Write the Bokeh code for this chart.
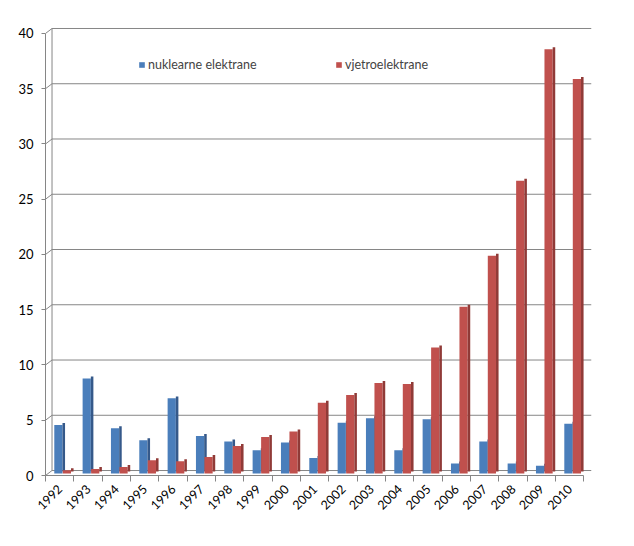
import math

from bokeh.plotting import figure
from bokeh.models import ColumnDataSource, Range1d, FixedTicker, Legend, LegendItem
from bokeh.transform import dodge
from bokeh.embed import file_html
from bokeh.resources import INLINE

# data
years = ["1992", "1993", "1994", "1995", "1996", "1997", "1998", "1999", "2000", "2001",
         "2002", "2003", "2004", "2005", "2006", "2007", "2008", "2009", "2010"]
nuklearne = [4.4, 8.6, 4.1, 3.0, 6.8, 3.4, 2.9, 2.1, 2.8, 1.4,
             4.6, 5.0, 2.1, 4.9, 0.9, 2.9, 0.9, 0.7, 4.5]
vjetro = [0.3, 0.4, 0.6, 1.2, 1.1, 1.5, 2.5, 3.3, 3.8, 6.4,
          7.1, 8.2, 8.1, 11.4, 15.1, 19.7, 26.5, 38.4, 35.7]
y_ticks = [0, 5, 10, 15, 20, 25, 30, 35, 40]

idx = list(range(len(years)))
src = ColumnDataSource(data=dict(x=idx, nuk=nuklearne, vje=vjetro))

FONT = "Lato"
AXIS_GREY = "#868686"
WALL_X = -0.27
RIGHT_X = 18.77
Y_SPAN = 40.63
WALL_SHIFT = 0.45  # back wall sits a few pixels higher than the front axis

p = figure(frame_width=546, frame_height=449, output_backend="svg", toolbar_location=None,
           x_range=Range1d(-0.5, RIGHT_X), y_range=Range1d(0, Y_SPAN),
           min_border_left=45, min_border_right=35, min_border_top=26,
           min_border_bottom=63)
p.outline_line_color = None
p.xgrid.visible = False
p.ygrid.visible = False

# shifted ranges to fake the 3D depth (back wall, bar fronts and bar sides)
p.extra_y_ranges = {"wall": Range1d(-WALL_SHIFT, Y_SPAN - WALL_SHIFT),
                    "front": Range1d(-0.18, Y_SPAN - 0.18),
                    "side": Range1d(-0.36, Y_SPAN - 0.36)}

# back wall: gridlines, its left edge and the little slanted links to the axis
p.segment(x0=WALL_X, x1=RIGHT_X, y0=y_ticks, y1=y_ticks, y_range_name="wall",
          line_color=AXIS_GREY, line_width=1)
p.segment(x0=WALL_X, x1=WALL_X, y0=y_ticks[0], y1=y_ticks[-1], y_range_name="wall",
          line_color=AXIS_GREY, line_width=1)
p.segment(x0=-0.5, x1=WALL_X, y0=y_ticks, y1=[t + WALL_SHIFT for t in y_ticks],
          line_color=AXIS_GREY, line_width=1)

w = 0.29
side_w = 0.09
b_front = p.vbar(x=dodge("x", -0.045), top="nuk", width=w, source=src, y_range_name="front",
                 fill_color="#4A7EBB", line_color=None)
p.vbar(x=dodge("x", 0.145), top="nuk", width=side_w, source=src, y_range_name="side",
       fill_color="#35598A", line_color=None)
r_front = p.vbar(x=dodge("x", 0.255), top="vje", width=w, source=src, y_range_name="front",
                 fill_color="#C0504D", line_color=None)
p.vbar(x=dodge("x", 0.445), top="vje", width=side_w, source=src, y_range_name="side",
       fill_color="#903A37", line_color=None)

# y axis
p.yaxis.ticker = FixedTicker(ticks=y_ticks)
p.yaxis.bounds = (0, 40)
p.yaxis.axis_line_color = AXIS_GREY
p.yaxis.major_tick_line_color = AXIS_GREY
p.yaxis.major_tick_out = 4
p.yaxis.major_tick_in = 0
p.yaxis.minor_tick_line_color = None
p.yaxis.major_label_standoff = 8
p.yaxis.major_label_text_font = FONT
p.yaxis.major_label_text_font_size = "13px"
p.yaxis.major_label_text_color = "black"

# x axis: labels at the centres, ticks between categories
p.xaxis.ticker = FixedTicker(ticks=idx, minor_ticks=[i - 0.5 for i in idx + [len(idx)]])
p.xaxis.major_label_overrides = {i: y for i, y in zip(idx, years)}
p.xaxis.bounds = (-0.5, len(idx) - 0.5)
p.xaxis.axis_line_color = AXIS_GREY
p.xaxis.major_tick_line_color = None
p.xaxis.minor_tick_line_color = AXIS_GREY
p.xaxis.minor_tick_out = 6
p.xaxis.minor_tick_in = 0
p.xaxis.major_label_orientation = math.pi / 4
p.xaxis.major_label_standoff = 5
p.xaxis.major_label_text_font = FONT
p.xaxis.major_label_text_font_size = "12.5px"
p.xaxis.major_label_text_color = "black"

# legend, two separate entries placed over the plot
for label, rend, loc in [("nuklearne elektrane", b_front, (93, 403)),
                         ("vjetroelektrane", r_front, (290, 403))]:
    leg = Legend(items=[LegendItem(label=label, renderers=[rend])], location=loc,
                 padding=0, margin=0, spacing=0, label_standoff=3,
                 glyph_width=7, glyph_height=7, label_height=13,
                 label_text_font=FONT, label_text_font_size="12.5px",
                 border_line_color=None, background_fill_alpha=0)
    p.add_layout(leg, "center")

open("out.html", "w").write(file_html(p, INLINE))
